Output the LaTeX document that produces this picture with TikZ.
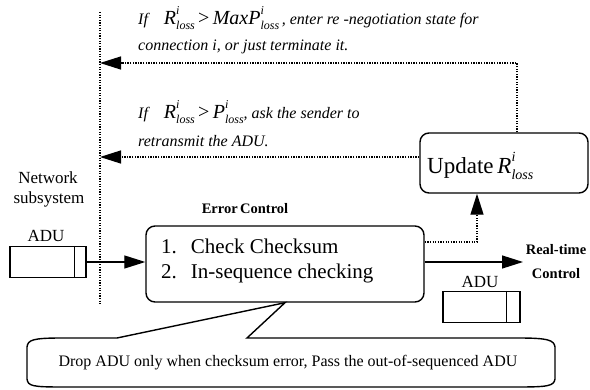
\documentclass[tikz,border=0pt]{standalone}
\usepackage{fontspec}
\setmainfont{Liberation Serif}
\usetikzlibrary{arrows.meta}

% R^i_loss style symbols set in the text face; optional argument = script size
\newcommand{\lossof}[2][12]{\textit{#2}\makebox[0pt][l]{\raisebox{0.5em}{\fontsize{#1}{#1}\selectfont\textit{i}}}\raisebox{-0.28em}{\fontsize{#1}{#1}\selectfont\textit{loss}}}
\newcommand{\symsize}{\fontsize{20}{20}\selectfont}

\tikzset{
  rbox/.style={draw, line width=1.4pt, rounded corners=9pt},
  adubox/.style={draw, line width=1.4pt, minimum width=76pt, minimum height=31pt, inner sep=0pt},
  tip/.style={-{Triangle[length=21pt,width=13pt]}},
  flow/.style={line width=1.3pt, tip},
  back/.style={line width=1.3pt, dash pattern=on 1.3pt off 1.3pt, tip},
  sep/.style={line width=1.3pt, dash pattern=on 1.3pt off 1.3pt},
  note/.style={anchor=west, inner sep=0pt, font=\fontsize{16}{18}\selectfont\itshape},
  lbl/.style={inner sep=0pt, font=\fontsize{17}{20}\selectfont},
  bold/.style={inner sep=0pt, font=\fontsize{14.5}{17}\selectfont\bfseries},
}

\begin{document}
\begin{tikzpicture}[x=1pt, y=-1pt]
\useasboundingbox (0,0) rectangle (590,390);

% network subsystem boundary
\coordinate (nettop) at (100,12);
\coordinate (netbot) at (100,305);
\draw[sep] (nettop) -- (netbot);

% boxes
\node[rbox, minimum width=278pt, minimum height=76pt] (check) at (285,264) {};
\node[rbox, minimum width=168pt, minimum height=60pt] (upd) at (504,163) {};
\node[adubox] (adu1) at (48,262) {};
\draw[line width=1.4pt] ([xshift=-12pt]adu1.north east) -- ([xshift=-12pt]adu1.south east);
\node[adubox, minimum width=77pt] (adu2) at (481.5,307) {};
\draw[line width=1.4pt] ([xshift=-14pt]adu2.north east) -- ([xshift=-14pt]adu2.south east);

% box texts
\node[inner sep=0pt, anchor=west, font=\fontsize{21}{24.5}\selectfont] (steps) at (161,261)
  {\begin{tabular}{@{}l@{\hspace{14pt}}l@{}}1. & Check Checksum\\ 2. & In-sequence checking\end{tabular}};
\node[inner sep=0pt, anchor=west, font=\fontsize{23}{24}\selectfont] (updt) at (427,166) {Update\,\lossof[14]{R}};

% labels
\node[lbl] (netw) at (48,178) {Network};
\node[lbl] (subs) at (49,199) {subsystem};
\node[lbl] (adul1) at (46,236) {ADU};
\node[lbl] (adul2) at (480,282) {ADU};
\node[bold] (ec) at (245,209) {Error\,Control};
\node[bold] (rt1) at (556,250) {Real-time};
\node[bold] (rt2) at (556,274) {Control};

% feedback notes
\node[note] (n1) at (138,18) {If\quad{\symsize\lossof{R}\,\upshape >\,\itshape Max\lossof{P}}\,, enter re -negotiation state for};
\node[note] (n2) at (138,47) {connection i, or just terminate it.};
\node[note] (n3) at (138,112) {If\quad{\symsize\lossof{R}\,\upshape >\,\itshape\lossof{P}}, ask the sender to};
\node[note] (n4) at (138,141) {retransmit the ADU.};

% connectors
\coordinate (ret1) at (517,63);
\draw[back] (upd.north -| ret1) -- (ret1) -- (ret1 -| nettop);
\draw[back] ([yshift=6pt]upd.west) -- ([yshift=6pt]upd.west -| nettop);
\draw[flow] (adu1.east) -- (adu1.east -| check.west);
\coordinate (tap) at ([yshift=22pt]check.east);
\draw[back] (tap) -| ([xshift=-27pt]upd.south);
\coordinate (rtend) at (523,262);
\draw[flow] (rtend -| check.east) -- (rtend);

% callout
\draw[line width=1.4pt, line join=miter]
  (117,338) -- (check.south) -- (247,338) -- (518,338)
  .. controls (548,338) and (554,340) .. (555,347) -- (555,379)
  .. controls (554,386) and (548,387) .. (518,387) -- (62,387)
  .. controls (32,387) and (28,386) .. (27,379) -- (27,347)
  .. controls (28,340) and (32,338) .. (62,338) -- cycle;
\node[inner sep=0pt, font=\fontsize{16}{18}\selectfont] (drop) at (288,363)
  {Drop ADU only when checksum error, Pass the out-of-sequenced ADU};
\end{tikzpicture}
\end{document}
